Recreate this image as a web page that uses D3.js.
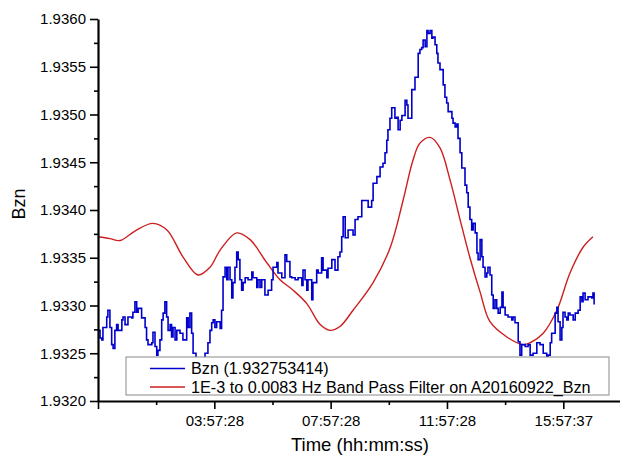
<!DOCTYPE html>
<html>
<head>
<meta charset="utf-8">
<script src="https://cdn.jsdelivr.net/npm/d3@7"></script>
<style>
  html, body { margin: 0; padding: 0; background: #fff; }
  svg text { font-family: "Liberation Sans", Arial, sans-serif; fill: #000; }
</style>
</head>
<body>
<div id="chart"></div>
<script>
// hours since 23:57:28, Bzn value
const bznSeries = [
  [0.00,1.93274],[0.07,1.93266],[0.13,1.93264],[0.17,1.93277],[0.30,1.93288],[0.34,1.93295],[0.41,1.93277],[0.47,1.93259],[0.52,1.93255],[0.58,1.93274],
  [0.64,1.93280],[0.69,1.93274],[0.82,1.93285],[0.86,1.93288],[0.93,1.93280],[1.03,1.93288],[1.16,1.93287],[1.20,1.93293],[1.27,1.93304],[1.33,1.93293],
  [1.38,1.93297],[1.50,1.93287],[1.62,1.93277],[1.67,1.93264],[1.72,1.93259],[1.85,1.93261],[1.89,1.93272],[1.96,1.93257],[2.02,1.93248],[2.06,1.93253],
  [2.13,1.93264],[2.19,1.93285],[2.24,1.93292],[2.30,1.93304],[2.36,1.93288],[2.41,1.93274],[2.48,1.93280],[2.53,1.93267],[2.58,1.93277],[2.65,1.93264],
  [2.71,1.93274],[2.82,1.93271],[2.92,1.93264],[3.05,1.93287],[3.10,1.93277],[3.16,1.93292],[3.22,1.93271],[3.27,1.93250],[3.37,1.93222],[3.51,1.93217],
  [3.65,1.93227],[3.68,1.93250],[3.78,1.93261],[3.85,1.93274],[3.91,1.93282],[3.96,1.93285],[4.02,1.93277],[4.08,1.93283],[4.20,1.93276],[4.25,1.93295],
  [4.30,1.93330],[4.37,1.93340],[4.43,1.93327],[4.47,1.93340],[4.54,1.93327],[4.60,1.93308],[4.64,1.93324],[4.71,1.93340],[4.77,1.93356],[4.82,1.93348],
  [4.88,1.93327],[4.94,1.93316],[4.99,1.93324],[5.06,1.93329],[5.16,1.93327],[5.29,1.93335],[5.33,1.93329],[5.46,1.93319],[5.50,1.93327],[5.57,1.93319],
  [5.63,1.93327],[5.74,1.93311],[5.85,1.93316],[5.97,1.93327],[6.02,1.93340],[6.15,1.93345],[6.19,1.93334],[6.32,1.93329],[6.43,1.93353],[6.49,1.93346],
  [6.60,1.93330],[6.66,1.93329],[6.78,1.93327],[6.88,1.93329],[7.01,1.93321],[7.05,1.93337],[7.12,1.93327],[7.18,1.93316],[7.22,1.93327],[7.35,1.93306],
  [7.39,1.93324],[7.52,1.93337],[7.57,1.93334],[7.69,1.93350],[7.74,1.93337],[7.87,1.93329],[7.91,1.93339],[8.04,1.93348],[8.15,1.93337],[8.25,1.93351],
  [8.32,1.93356],[8.38,1.93372],[8.43,1.93393],[8.50,1.93371],[8.60,1.93379],[8.73,1.93379],[8.77,1.93374],[8.84,1.93390],[8.94,1.93393],[9.07,1.93410],
  [9.18,1.93410],[9.29,1.93403],[9.41,1.93410],[9.46,1.93428],[9.59,1.93435],[9.70,1.93445],[9.80,1.93449],[9.87,1.93460],[9.93,1.93473],[9.97,1.93484],
  [10.04,1.93496],[10.10,1.93507],[10.21,1.93496],[10.27,1.93497],[10.32,1.93484],[10.39,1.93494],[10.45,1.93499],[10.56,1.93515],[10.62,1.93510],[10.66,1.93496],
  [10.79,1.93526],[10.90,1.93539],[11.01,1.93564],[11.07,1.93568],[11.13,1.93570],[11.18,1.93578],[11.25,1.93571],[11.31,1.93588],[11.35,1.93585],[11.42,1.93588],
  [11.48,1.93580],[11.52,1.93581],[11.59,1.93573],[11.65,1.93564],[11.69,1.93554],[11.76,1.93547],[11.87,1.93531],[11.93,1.93518],[11.99,1.93512],[12.04,1.93503],
  [12.17,1.93496],[12.21,1.93491],[12.28,1.93487],[12.34,1.93490],[12.38,1.93475],[12.45,1.93460],[12.51,1.93444],[12.62,1.93426],[12.68,1.93418],[12.73,1.93403],
  [12.79,1.93390],[12.85,1.93379],[12.90,1.93386],[12.97,1.93376],[13.03,1.93355],[13.07,1.93348],[13.14,1.93369],[13.20,1.93351],[13.24,1.93340],[13.31,1.93330],
  [13.37,1.93334],[13.41,1.93340],[13.48,1.93332],[13.54,1.93311],[13.59,1.93297],[13.65,1.93306],[13.71,1.93297],[13.76,1.93292],[13.83,1.93298],[13.89,1.93314],
  [13.93,1.93298],[14.00,1.93290],[14.10,1.93288],[14.23,1.93285],[14.27,1.93288],[14.34,1.93282],[14.45,1.93262],[14.51,1.93248],[14.57,1.93259],[14.69,1.93257],
  [14.79,1.93259],[14.86,1.93248],[14.96,1.93250],[15.09,1.93261],[15.20,1.93259],[15.31,1.93250],[15.43,1.93246],[15.48,1.93248],[15.55,1.93261],[15.60,1.93271],
  [15.72,1.93292],[15.78,1.93298],[15.82,1.93283],[15.89,1.93264],[15.95,1.93277],[15.99,1.93293],[16.06,1.93288],[16.12,1.93285],[16.17,1.93292],[16.23,1.93290],
  [16.34,1.93285],[16.41,1.93292],[16.51,1.93295],[16.58,1.93309],[16.64,1.93304],[16.68,1.93313],[16.75,1.93306],[16.85,1.93309],[16.98,1.93308],[17.02,1.93313],
  [17.06,1.93301]
];

// band pass filtered series
const filterSeries = [
  [0.00,1.93372],[0.41,1.93370],[0.76,1.93368],[1.27,1.93378],[1.89,1.93386],[2.37,1.93379],[2.92,1.93351],[3.44,1.93332],
  [3.85,1.93340],[4.20,1.93358],[4.77,1.93376],[5.23,1.93369],[5.80,1.93345],[6.26,1.93327],[6.71,1.93316],[7.18,1.93302],
  [7.64,1.93280],[7.98,1.93274],[8.32,1.93278],[8.77,1.93295],[9.46,1.93324],[10.04,1.93360],[10.49,1.93410],[10.83,1.93452],
  [11.07,1.93470],[11.42,1.93476],[11.76,1.93465],[12.11,1.93431],[12.45,1.93390],[12.79,1.93350],[13.14,1.93314],[13.48,1.93283],
  [14.06,1.93267],[14.62,1.93259],[14.86,1.93261],[15.31,1.93271],[15.78,1.93295],[16.23,1.93334],[16.68,1.93361],[17.02,1.93372]
];

const xMajor = [0, 4, 8, 12, 16];
const xLabels = ['', '03:57:28', '07:57:28', '11:57:28', '15:57:37'];
const xMinor = [2, 6, 10, 14];
const yMajor = [1.9320, 1.9325, 1.9330, 1.9335, 1.9340, 1.9345, 1.9350, 1.9355, 1.9360];
const yMinor = [1.93225, 1.93275, 1.93325, 1.93375, 1.93425, 1.93475, 1.93525, 1.93575];
const legendLabels = ['Bzn (1.932753414)', '1E-3 to 0.0083 Hz Band Pass Filter on A20160922_Bzn'];
const seriesColors = ['#0000cc', '#cc1f1f'];

const width = 620, height = 456;
const margin = { top: 19, right: 0, bottom: 55, left: 98 };

const svg = d3.select('#chart').append('svg')
  .attr('width', width)
  .attr('height', height);

const x = d3.scaleLinear().domain([0, 17.95]).range([margin.left, width - margin.right]);
const y = d3.scaleLinear().domain([1.932, 1.936]).range([height - margin.bottom, margin.top]);

// lines
const blueLine = d3.line().x(d => x(d[0])).y(d => y(d[1])).curve(d3.curveStepAfter);
const redLine = d3.line().x(d => x(d[0])).y(d => y(d[1])).curve(d3.curveCatmullRom.alpha(0.5));

svg.append('path')
  .datum(filterSeries)
  .attr('d', redLine)
  .attr('fill', 'none')
  .attr('stroke', seriesColors[1])
  .attr('stroke-width', 1.4);

svg.append('path')
  .datum(bznSeries)
  .attr('d', blueLine)
  .attr('fill', 'none')
  .attr('stroke', seriesColors[0])
  .attr('stroke-width', 1.6);

// axes
svg.append('g')
  .attr('transform', `translate(${margin.left},0)`)
  .call(d3.axisLeft(y).tickValues(yMajor).tickSize(8).tickSizeOuter(0).tickPadding(4)
    .tickFormat(d3.format('.4f')));
svg.append('g')
  .attr('transform', `translate(${margin.left},0)`)
  .call(d3.axisLeft(y).tickValues(yMinor).tickSize(4).tickFormat('').tickSizeOuter(0))
  .select('.domain').remove();

svg.append('g')
  .attr('transform', `translate(0,${height - margin.bottom})`)
  .call(d3.axisBottom(x).tickValues(xMajor).tickSize(8).tickSizeOuter(0).tickPadding(6)
    .tickFormat((d, i) => xLabels[i]));
svg.append('g')
  .attr('transform', `translate(0,${height - margin.bottom})`)
  .call(d3.axisBottom(x).tickValues(xMinor).tickSize(4).tickFormat('').tickSizeOuter(0))
  .select('.domain').remove();

svg.selectAll('.domain').attr('stroke', '#000').attr('stroke-width', 2.2);
svg.selectAll('.tick line').attr('stroke', '#000').attr('stroke-width', 1.6);
svg.selectAll('.tick text').attr('font-size', 15).attr('font-family', '"Liberation Sans", Arial, sans-serif');

// axis titles
svg.append('text')
  .attr('x', 360)
  .attr('y', 451)
  .attr('text-anchor', 'middle')
  .attr('font-size', 18.5)
  .text('Time (hh:mm:ss)');

svg.append('text')
  .attr('transform', 'translate(25,204) rotate(-90)')
  .attr('text-anchor', 'middle')
  .attr('font-size', 18)
  .text('Bzn');

// legend
const legend = svg.append('g').attr('transform', 'translate(126,357)');
legend.append('rect')
  .attr('width', 483)
  .attr('height', 38)
  .attr('fill', '#fff')
  .attr('stroke', '#8a8a8a')
  .attr('stroke-width', 1);

legendLabels.forEach((lab, i) => {
  const ly = 11.5 + i * 18.5;
  legend.append('line')
    .attr('x1', 24).attr('x2', 59)
    .attr('y1', ly).attr('y2', ly)
    .attr('stroke', seriesColors[i])
    .attr('stroke-width', 1.5);
  legend.append('text')
    .attr('x', 65)
    .attr('y', ly + 5.5)
    .attr('font-size', 16.2)
    .text(lab);
});
</script>
</body>
</html>
